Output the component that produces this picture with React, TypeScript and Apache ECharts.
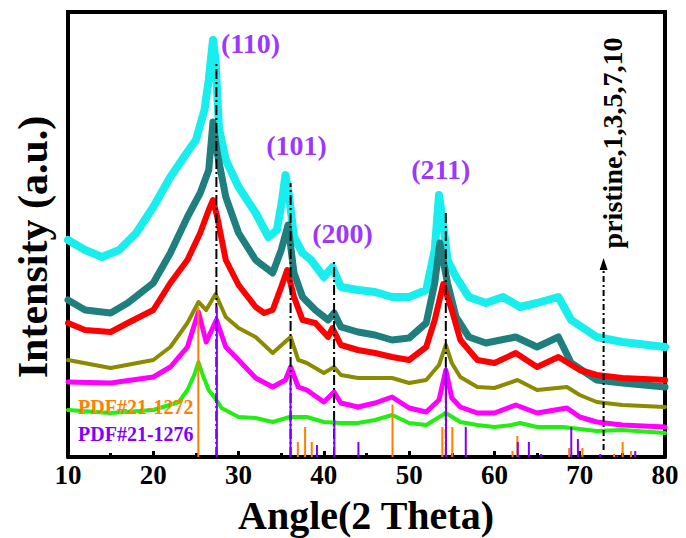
import React, { useEffect, useRef } from "react";
import * as echarts from "echarts";

const FONT = "'Liberation Serif', 'Times New Roman', serif";

// XRD patterns (2θ, intensity a.u.), offset traces
const pristineData = [[10,47],[15,44],[20,47],[23,55],[24,67],[24.8,82],[25.3,95],[25.8,82],[26.5,67],[27.4,57],[28,49],[30,40],[32,39],[34,35],[36,40],[38,40],[40,35],[42,34],[44,34],[46,37],[48,42],[50,34],[52,32],[54.3,44],[56,35],[58,32],[60,30],[62,32],[63,34],[65,30],[68,30],[70,28],[72,26],[75,27],[80,24]];
const s1Data = [[10,75],[15,74],[20,80],[22,90],[24,110],[25.3,145],[26.2,115],[27.4,137],[28.5,110],[30,97],[32,79],[34,70],[35.5,77],[36.1,90],[37,70],[38,67],[40,55],[41.2,65],[42,54],[44,50],[46,54],[48,60],[50,49],[52,45],[53.5,57],[54.3,87],[55,59],[56,50],[58,44],[60,44],[62.5,52],[65,44],[68.5,49],[70,40],[72,35],[75,32],[80,30]];
const s3Data = [[10,97],[15,89],[20,97],[22,110],[24,134],[25.3,155],[26.2,147],[27.3,163],[28.5,140],[30,129],[32,120],[34,104],[36.1,120],[37,97],[38,94],[40,84],[41.2,90],[42,82],[44,79],[46,79],[48,79],[50,74],[52,77],[53.5,92],[54.3,112],[55,94],[56,80],[58,70],[60,69],[62.7,77],[65,67],[68.5,70],[70,62],[72,55],[75,52],[80,50]];
const s5Data = [[10,134],[12,127],[15,125],[17,134],[20,147],[22,174],[24,197],[25.5,224],[26.5,247],[27,257],[27.5,240],[28.5,197],[30,172],[32,150],[33,144],[34,147],[35,170],[35.7,187],[36.5,160],[37.5,137],[39,134],[40.5,120],[41,129],[42,112],[44,107],[46,104],[48,100],[50,97],[52,110],[53,137],[54,173],[55,147],[56,117],[58,97],[60,94],[62.5,104],[65,90],[67.5,100],[70,87],[72,82],[75,79],[80,77]];
const s7Data = [[10,157],[12,147],[15,144],[17,154],[20,174],[22,204],[24,240],[25.5,264],[26.5,287],[27,335],[27.5,304],[28.5,260],[30,224],[32,197],[34,184],[35,207],[35.8,232],[36.5,184],[37.5,160],[39,147],[40.5,137],[41.2,144],[42,130],[44,125],[46,122],[48,117],[50,119],[52,134],[53,174],[53.6,214],[54.5,174],[55.5,140],[57,120],[59,114],[62.5,120],[65,110],[67.5,120],[69,94],[72,77],[75,74],[80,70]];
const s10Data = [[10,217],[12,207],[14,200],[16,207],[18,224],[20,250],[22,280],[24,305],[25,317],[26,347],[26.5,377],[27,417],[27.3,397],[27.7,329],[28.5,297],[30,270],[32,244],[33.5,220],[34.5,227],[35.1,257],[35.5,282],[35.9,262],[36.5,220],[37.5,204],[38.5,197],[40,180],[41,190],[42,170],[44,167],[46,165],[48,160],[50,160],[52,167],[53,207],[53.5,262],[54,232],[54.5,197],[55.5,180],[57,160],[59,154],[61,160],[63,150],[65,154],[67.5,160],[69,137],[72,120],[75,115],[80,110]];

const seriesNames = ["10", "7", "5", "3", "1", "pristine"];
const seriesColors = ["#19eeee", "#1f7f7f", "#ff0000", "#8b8b00", "#ff00ff", "#22ee11"];
const seriesWidths = [8, 7, 6, 4, 5, 4];
const seriesData = [s10Data, s7Data, s5Data, s3Data, s1Data, pristineData];

// Reference cards: anatase PDF#21-1272 and rutile PDF#21-1276 (2θ, relative intensity)
const anatasePos = [25.28, 36.95, 37.8, 38.58, 48.05, 53.89, 55.06, 62.12, 62.69, 68.76, 70.31, 74.03, 75.03, 76.02];
const anataseInt = [100, 10, 20, 10, 35, 20, 20, 4, 14, 6, 6, 2, 10, 4];
const rutilePos = [27.45, 36.09, 39.19, 41.23, 44.05, 54.32, 56.64, 62.74, 64.04, 65.48, 69.01, 69.79, 72.41, 74.41, 76.51];
const rutileInt = [100, 50, 8, 25, 10, 60, 20, 10, 10, 2, 20, 12, 2, 1, 4];
const STICK_SCALE = 1.5;

// Rutile reflections marked with dash-dot lines
const hklPos = [27.4, 36.1, 41.2, 54.3];
const hklTop = [395, 274, 197, 247];
const hklLabels = ["(110)", "(101)", "(200)", "(211)"];
const hklLabelPos = [[31.4, 414], [36.8, 312], [42.2, 224], [53.7, 288]];

const arrowX = 72.8;
const arrowFrom = 7;
const arrowTo = 199;

const xTicks = [10, 20, 30, 40, 50, 60, 70, 80];

const PURPLE = "#7f00ff";
const ORANGE = "#ff8000";

function stickSeries(pos: number[], ints: number[], color: string) {
  return {
    type: "custom",
    z: 5,
    silent: true,
    encode: { x: 0, y: 1 },
    data: pos.map((p, i) => [p, ints[i] * STICK_SCALE]),
    renderItem: (_params: any, api: any) => {
      const x = api.value(0);
      const h = api.value(1);
      const p0 = api.coord([x, 0]);
      const p1 = api.coord([x, h]);
      return {
        type: "line",
        shape: { x1: p0[0], y1: p0[1], x2: p1[0], y2: p1[1] },
        style: { stroke: color, lineWidth: 2 },
      };
    },
  };
}

const frameAxis = (position: string) => ({
  axisLine: { show: true, onZero: false, lineStyle: { color: "#000", width: 4 } },
  axisTick: { show: false },
  axisLabel: { show: false },
  splitLine: { show: false },
  position,
});

const textStyle = (text: string, size: number, fill: string, align = "center") => ({
  text,
  font: `bold ${size}px ${FONT}`,
  fill,
  align,
  verticalAlign: "middle",
  textAlign: align,
  textVerticalAlign: "middle",
});

export default function App() {
  const ref = useRef<HTMLDivElement>(null);
  useEffect(() => {
    document.body.style.margin = "0";
    const chart = echarts.init(ref.current!, null, { renderer: "svg" });
    const lineSeries = seriesData.map((d, i) => ({
      name: seriesNames[i],
      type: "line",
      data: d,
      showSymbol: false,
      symbol: "none",
      smooth: false,
      z: 2,
      lineStyle: { color: seriesColors[i], width: seriesWidths[i], join: "round", cap: "round" },
      itemStyle: { color: seriesColors[i] },
    }));
    const option: any = {
      animation: false,
      backgroundColor: "#fff",
      grid: {
        left: 68,
        right: 21,
        top: 12,
        bottom: 81,
        containLabel: false,
        outerBoundsMode: "none",
      },
      xAxis: [
        {
          type: "value",
          min: xTicks[0],
          max: xTicks[xTicks.length - 1],
          interval: 10,
          position: "bottom",
          axisLine: { show: true, onZero: false, lineStyle: { color: "#000", width: 4 } },
          axisTick: { show: true, inside: true, length: 6, lineStyle: { color: "#000", width: 3 } },
          minorTick: { show: true, splitNumber: 2, length: 4, lineStyle: { color: "#000", width: 3 } },
          splitLine: { show: false },
          axisLabel: { fontFamily: FONT, fontWeight: "bold", fontSize: 27, color: "#000", margin: 4 },
        },
        { type: "value", min: 10, max: 80, interval: 10, ...frameAxis("top") },
      ],
      yAxis: [
        {
          type: "value",
          min: 0,
          max: 445,
          position: "left",
          axisLine: { show: true, onZero: false, lineStyle: { color: "#000", width: 4 } },
          axisTick: { show: false },
          axisLabel: { show: false },
          splitLine: { show: false },
        },
        { type: "value", min: 0, max: 445, ...frameAxis("right") },
      ],
      series: [
        ...lineSeries,
        {
          type: "custom",
          z: 4,
          silent: true,
          encode: { x: 0, y: 1 },
          data: hklPos.map((p, i) => [p, hklTop[i]]),
          renderItem: (_params: any, api: any) => {
            const x = api.value(0);
            const p0 = api.coord([x, 0]);
            const p1 = api.coord([x, api.value(1)]);
            return {
              type: "line",
              shape: { x1: p0[0], y1: p0[1], x2: p1[0], y2: p1[1] },
              style: { stroke: "#000", lineWidth: 2, lineDash: [10, 3, 2, 3] },
            };
          },
        },
        stickSeries(anatasePos, anataseInt, ORANGE),
        stickSeries(rutilePos, rutileInt, PURPLE),
        {
          type: "custom",
          z: 6,
          silent: true,
          encode: { x: 0, y: 1 },
          data: [[arrowX, arrowFrom, arrowTo]],
          renderItem: (_params: any, api: any) => {
            const x = api.value(0);
            const p0 = api.coord([x, api.value(1)]);
            const p1 = api.coord([x, api.value(2)]);
            return {
              type: "group",
              children: [
                {
                  type: "line",
                  shape: { x1: p0[0], y1: p0[1], x2: p1[0], y2: p1[1] + 8 },
                  style: { stroke: "#000", lineWidth: 2, lineDash: [6, 3, 2, 3] },
                },
                {
                  type: "polygon",
                  shape: { points: [[p1[0], p1[1]], [p1[0] - 4, p1[1] + 12], [p1[0] + 4, p1[1] + 12]] },
                  style: { fill: "#000" },
                },
              ],
            };
          },
        },
        {
          type: "scatter",
          z: 7,
          silent: true,
          symbolSize: 0,
          data: hklLabelPos.map((p, i) => [p[0], p[1], hklLabels[i]]),
          label: {
            show: true,
            position: "inside",
            formatter: (p: any) => p.data[2],
            fontFamily: FONT,
            fontWeight: "bold",
            fontSize: 28,
            color: PURPLE,
          },
        },
      ],
      graphic: [
        { type: "line", z: 10, shape: { x1: 66, y1: 12, x2: 667, y2: 12 }, style: { stroke: "#000", lineWidth: 4 } },
        { type: "text", x: 366, y: 515, z: 10, style: textStyle("Angle(2 Theta)", 40, "#000") },
        { type: "text", x: 33, y: 247, rotation: Math.PI / 2, z: 10, style: textStyle("Intensity (a.u.)", 42, "#000") },
        { type: "text", x: 612, y: 143, rotation: Math.PI / 2, z: 10, style: textStyle("pristine,1,3,5,7,10", 28, "#000") },
        { type: "text", x: 78, y: 407, z: 10, style: textStyle("PDF#21-1272", 20, ORANGE, "left") },
        { type: "text", x: 78, y: 434, z: 10, style: textStyle("PDF#21-1276", 20, PURPLE, "left") },
      ],
    };
    chart.setOption(option);
    return () => chart.dispose();
  }, []);
  return <div ref={ref} style={{ width: 686, height: 538 }} />;
}
